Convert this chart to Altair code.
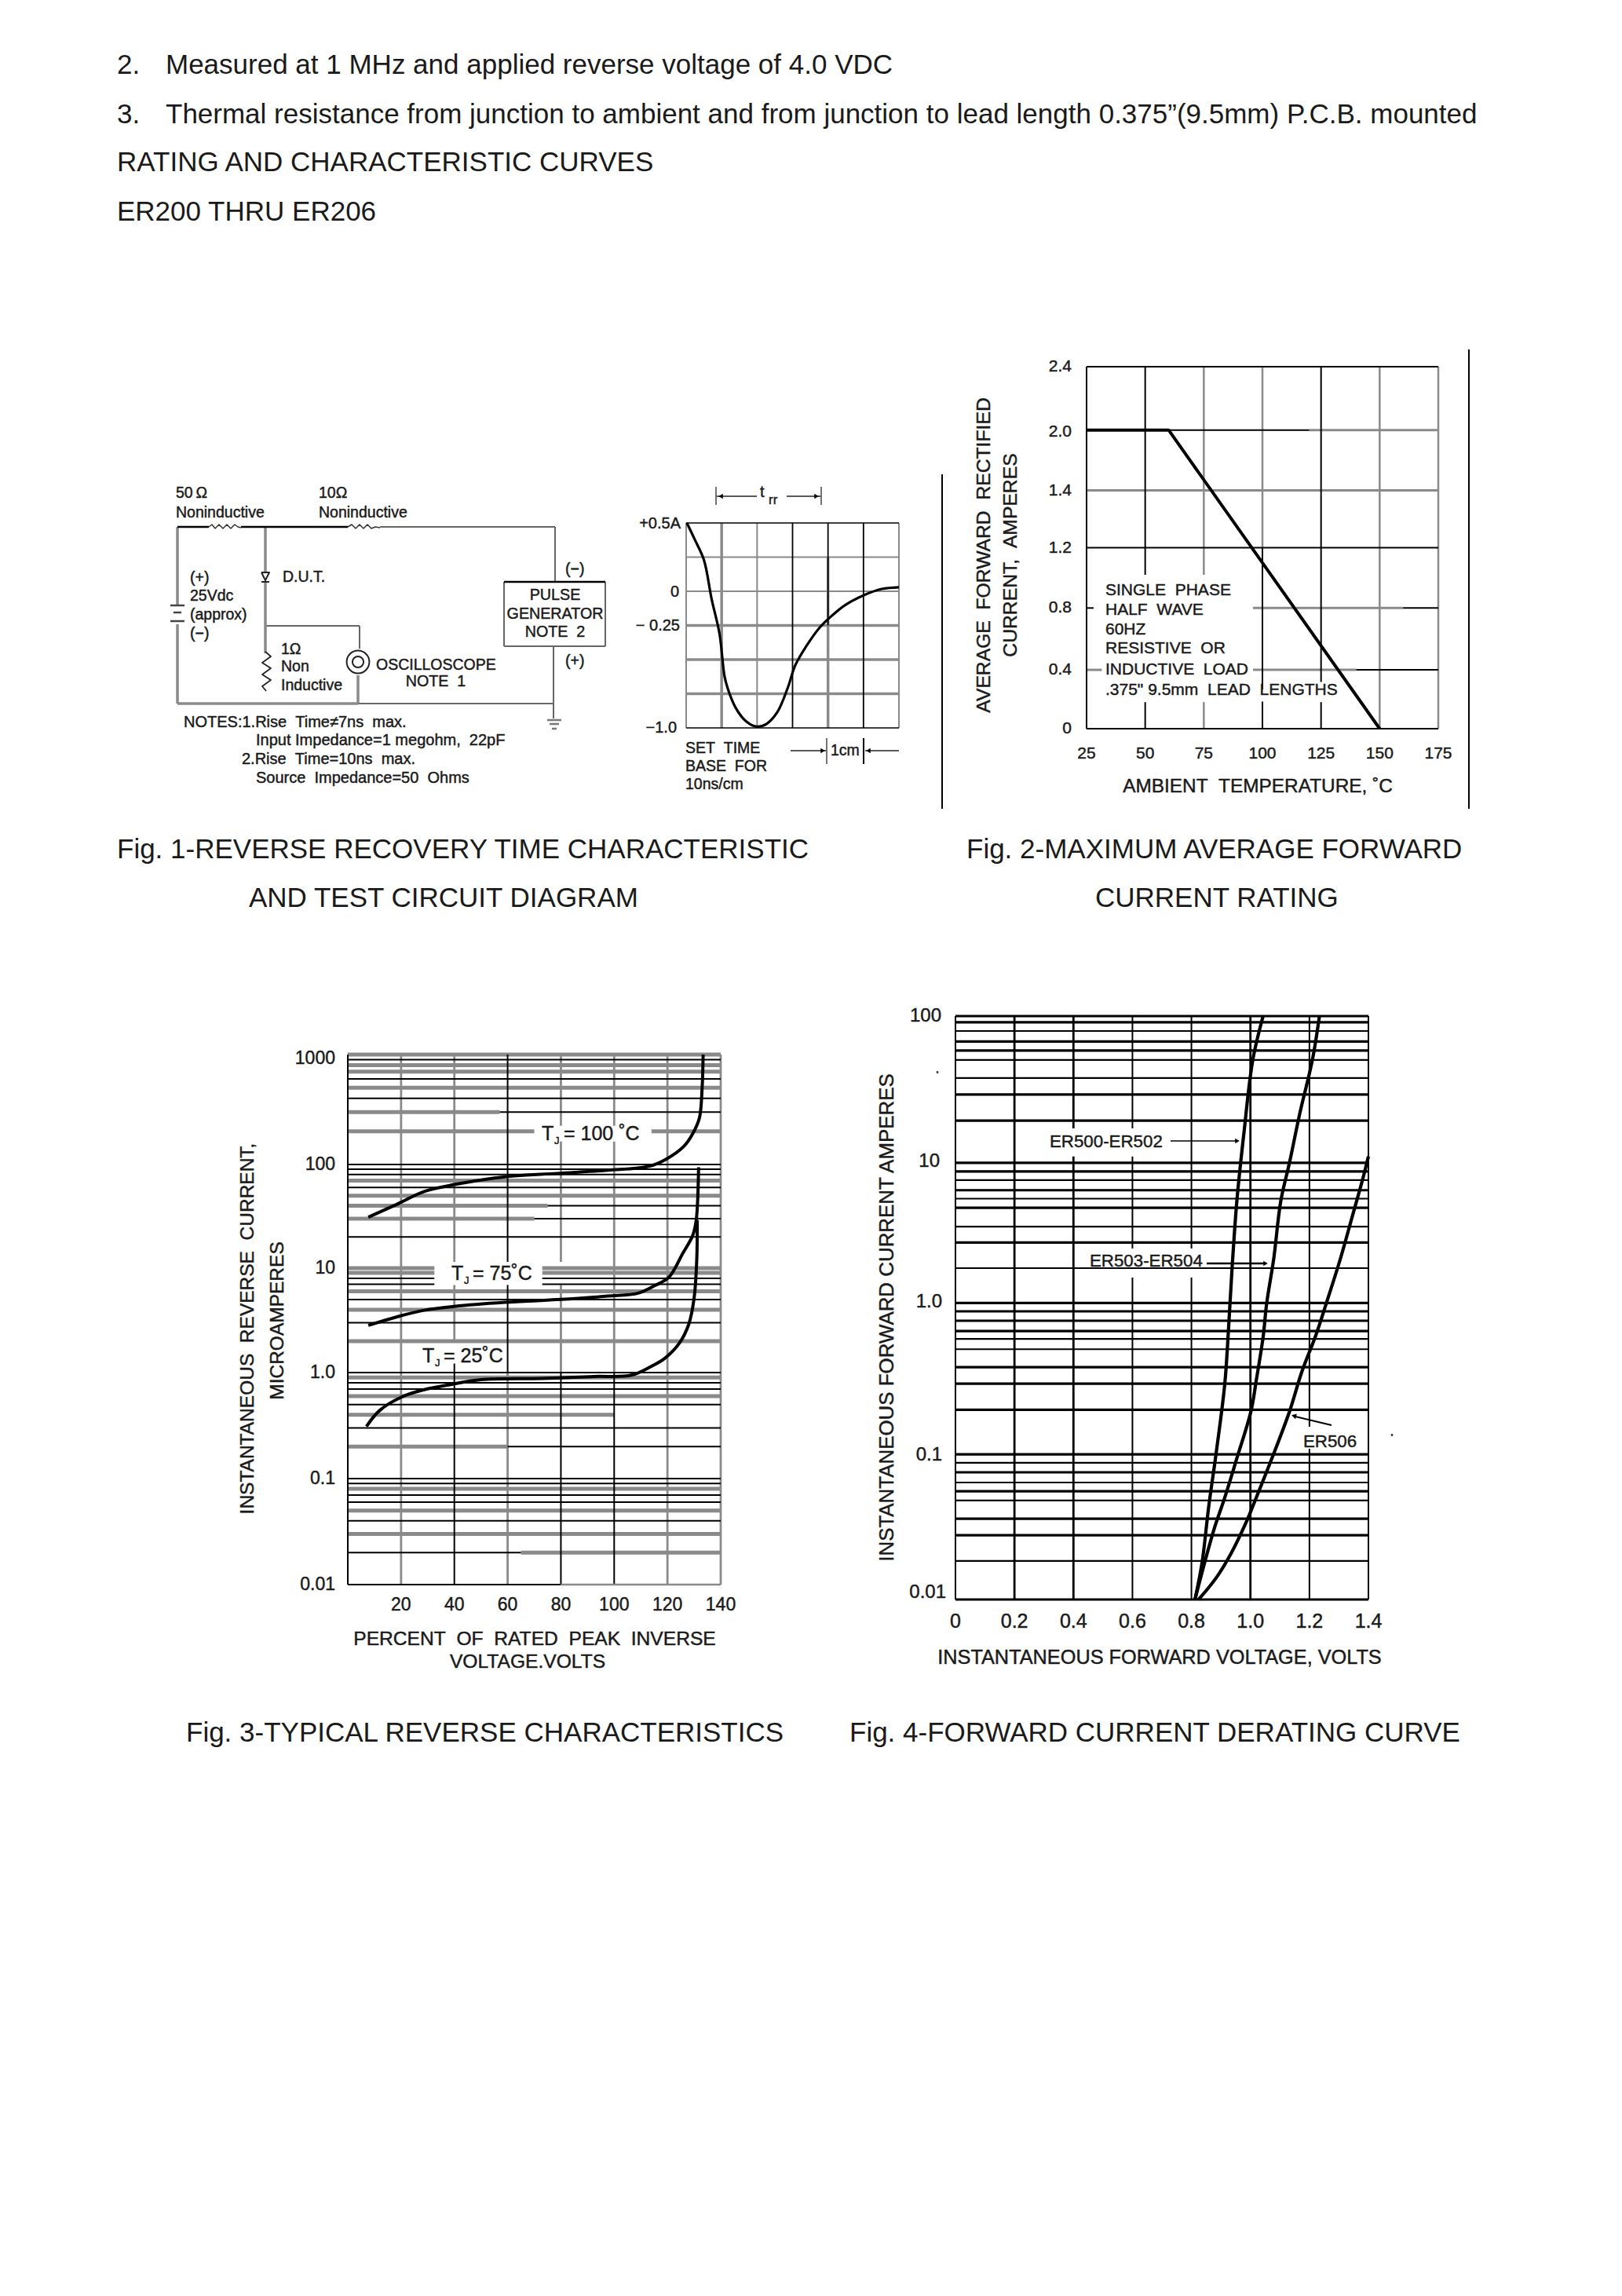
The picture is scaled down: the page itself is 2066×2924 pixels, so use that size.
import altair as alt
import pandas as pd

W, H = 2050, 2908
FONT = "Liberation Sans"
BLACK = "#000000"
GRAY = "#8a8a8a"
TXT = "#1a1a1a"
N = "\u00a0"


def xs(d0, d1, p0, p1, **kw):
    return alt.Scale(domain=[d0, d1], range=[p0 - 8, p1 - 8], **kw)


def ys(d0, d1, p0, p1, **kw):
    return alt.Scale(domain=[d0, d1], range=[p0 - 8, p1 - 8], **kw)


PAGE_X = xs(0, 2066, 0, 2066)
PAGE_Y = ys(0, 2924, 0, 2924)
CIRC_X = xs(0, 640, 180, 820)
CIRC_Y = ys(0, 460, 580, 1040)
WAVE_X = xs(0, 6, 874, 1145)
WAVE_Y = ys(-1.0, 0.5, 927, 666)
F2_X = xs(25, 175, 1384, 1832)
F2_Y = ys(0, 2.4, 928, 467)
F3_X = xs(0, 140, 443, 918)
F3_Y = alt.Scale(type="log", domain=[0.01, 0.1, 1, 10, 100, 1000],
                 range=[2018 - 8, 1883 - 8, 1748 - 8, 1615 - 8, 1483 - 8, 1343 - 8])
F4_X = xs(0, 1.4, 1217, 1743)
F4_Y = alt.Scale(type="log", domain=[0.01, 100], range=[2037 - 8, 1294 - 8])

layers = []


def hrules(rows, sx, sy, color, width):
    df = pd.DataFrame(rows, columns=["a", "b", "v"])
    layers.append(alt.Chart(df).mark_rule(color=color, strokeWidth=width).encode(
        x=alt.X("a:Q", scale=sx, axis=None), x2="b:Q",
        y=alt.Y("v:Q", scale=sy, axis=None)))


def vrules(rows, sx, sy, color, width):
    df = pd.DataFrame(rows, columns=["v", "a", "b"])
    layers.append(alt.Chart(df).mark_rule(color=color, strokeWidth=width).encode(
        x=alt.X("v:Q", scale=sx, axis=None),
        y=alt.Y("a:Q", scale=sy, axis=None), y2="b:Q"))


def curve(xv, yv, sx, sy, color=BLACK, width=4, interp="linear"):
    df = pd.DataFrame({"x": xv, "y": yv, "i": range(len(xv))})
    layers.append(alt.Chart(df).mark_line(color=color, strokeWidth=width, strokeJoin="round",
                                          interpolate=interp, clip=False).encode(
        x=alt.X("x:Q", scale=sx, axis=None), y=alt.Y("y:Q", scale=sy, axis=None), order="i:Q"))


def labels(rows, sx, sy, size, align="left", angle=0, thick=0.45, color=TXT):
    df = pd.DataFrame(rows, columns=["t", "x", "y"])
    kw = dict(stroke=color, strokeWidth=thick) if thick else {}
    layers.append(alt.Chart(df).mark_text(font=FONT, fontSize=size, align=align, baseline="middle",
                                          angle=angle, color=color, **kw).encode(
        x=alt.X("x:Q", scale=sx, axis=None), y=alt.Y("y:Q", scale=sy, axis=None), text="t:N"))


def heads(rows, shape, size=70, angle=0):
    df = pd.DataFrame(rows, columns=["x", "y"])
    layers.append(alt.Chart(df).mark_point(shape=shape, size=size, filled=True, color=BLACK, opacity=1,
                                           angle=angle).encode(
        x=alt.X("x:Q", scale=PAGE_X, axis=None), y=alt.Y("y:Q", scale=PAGE_Y, axis=None)))


# ---------- page text ----------
page_numbers = [("2.", 149, 83), ("3.", 149, 146)]
page_body = [
    ("Measured at 1 MHz and applied reverse voltage of 4.0 VDC", 211, 83),
    ("Thermal resistance from junction to ambient and from junction to lead length 0.375\u201d(9.5mm) P.C.B. mounted", 211, 146),
]
page_heads = [("RATING AND CHARACTERISTIC CURVES", 149, 207), ("ER200 THRU ER206", 149, 270)]
captions = [
    ("Fig. 1-REVERSE RECOVERY TIME CHARACTERISTIC", 149, 1082),
    ("AND TEST CIRCUIT DIAGRAM", 317, 1144),
    ("Fig. 2-MAXIMUM AVERAGE FORWARD", 1231, 1082),
    ("CURRENT RATING", 1395, 1144),
    ("Fig. 3-TYPICAL REVERSE CHARACTERISTICS", 237, 2207),
    ("Fig. 4-FORWARD CURRENT DERATING CURVE", 1082, 2207),
]
for group in (page_numbers, page_body, page_heads, captions):
    labels(group, PAGE_X, PAGE_Y, 35, thick=0)

# scan column rules and specks
vrules([(1200, 604, 1030), (1871, 445, 1030)], PAGE_X, PAGE_Y, BLACK, 2)
vrules([(1194, 1364, 1367), (1773, 1826, 1829)], PAGE_X, PAGE_Y, "#444444", 2.5)

# ---------- Fig 1 circuit (schematic units) ----------
wire_black_h = [(46, 86, 91), (127, 263, 91), (462, 591, 161)]
wire_gray_h_thin = [(304, 527, 91), (158, 278, 217), (276, 525, 316), (462, 591, 243)]
wire_gray_h = [(46, 276, 316)]
wire_gray_v = [(46, 91, 190), (46, 215, 316), (158, 91, 148), (158, 160, 252), (276, 280, 316)]
wire_gray_v_thin = [(278, 217, 246), (527, 91, 161), (525, 243, 316), (462, 161, 243), (591, 161, 243), (525, 316, 335)]
batt_plates = [(37, 55, 191), (41, 51, 200), (37, 55, 211)]
ground_plates = [(517, 535, 337), (520, 532, 342), (523, 529, 348)]
hrules(wire_gray_h_thin, CIRC_X, CIRC_Y, "#666666", 2)
hrules(wire_gray_h, CIRC_X, CIRC_Y, GRAY, 3.5)
vrules(wire_gray_v, CIRC_X, CIRC_Y, GRAY, 3.5)
vrules(wire_gray_v_thin, CIRC_X, CIRC_Y, "#666666", 2)
hrules(wire_black_h, CIRC_X, CIRC_Y, BLACK, 2.5)
hrules(batt_plates, CIRC_X, CIRC_Y, "#444444", 2.5)
hrules(ground_plates, CIRC_X, CIRC_Y, "#777777", 2.5)
curve([86, 90, 94, 99, 104, 109, 114, 119, 123, 127], [91, 88, 93, 88, 93, 88, 93, 88, 91, 92], CIRC_X, CIRC_Y, "#333333", 1.5)
curve([263, 268, 273, 278, 283, 288, 293, 298, 304], [91, 88, 93, 88, 93, 88, 93, 91, 92], CIRC_X, CIRC_Y, "#333333", 1.5)
curve([158, 165, 154, 165, 154, 165, 154, 159], [250, 256, 264, 271, 279, 286, 294, 300], CIRC_X, CIRC_Y, "#222222", 1.8)
curve([153, 163, 158, 153], [149, 149, 159, 149], CIRC_X, CIRC_Y, "#222222", 2)
hrules([(153, 163, 161)], CIRC_X, CIRC_Y, "#222222", 2)
for r_size, sw in ((830, 2), (200, 2)):
    layers.append(alt.Chart(pd.DataFrame({"x": [276], "y": [263]})).mark_point(
        shape="circle", size=r_size, filled=False, color="#222222", strokeWidth=sw, opacity=1).encode(
        x=alt.X("x:Q", scale=CIRC_X, axis=None), y=alt.Y("y:Q", scale=CIRC_Y, axis=None)))

circ_left = [
    ("50\u2009\u03a9", 44, 48), ("Noninductive", 44, 73), ("10\u03a9", 226, 48), ("Noninductive", 226, 73),
    ("(+)", 62, 156), ("25Vdc", 62, 179), ("(approx)", 62, 203), ("(\u2212)", 62, 227),
    ("D.U.T.", 180, 155), ("(\u2212)", 540, 145), ("(+)", 540, 262),
    ("1\u03a9", 178, 247), ("Non", 178, 269), ("Inductive", 178, 293),
    ("OSCILLOSCOPE", 299, 267),
]
circ_notes = [
    (f"NOTES:1.Rise{N}{N}Time\u22607ns{N}{N}max.", 54, 340),
    (f"Input{N}Impedance=1{N}megohm,{N}{N}22pF", 146, 363),
    (f"2.Rise{N}{N}Time=10ns{N}{N}max.", 128, 387),
    (f"Source{N}{N}Impedance=50{N}{N}Ohms", 146, 411),
]
circ_center = [("PULSE", 527, 178), ("GENERATOR", 527, 202), (f"NOTE{N}{N}2", 527, 225), (f"NOTE{N}{N}1", 375, 288)]
labels(circ_left, CIRC_X, CIRC_Y, 19.5)
labels(circ_notes, CIRC_X, CIRC_Y, 20)
labels(circ_center, CIRC_X, CIRC_Y, 19.7, align="center")

# ---------- Fig 1 waveform ----------
wave_x_gray = [(0, -1.0, 0.5), (6, -1.0, 0.5), (2, -1.0, 0.5)]
wave_x_gray_bold = [(1, -1.0, 0.5), (4, -1.0, 0.25)]
wave_x_black = [(3, -1.0, 0.5), (4, -0.25, 0.5), (5, -1.0, 0.5)]
wave_y_gray = [(0, 6, 0.25), (0, 6, 0.0)]
wave_y_gray_bold = [(0, 6, -0.25), (0, 6, -0.5), (0, 6, -0.75)]
wave_y_black = [(0, 6, 0.5), (0, 6, -1.0)]
vrules(wave_x_gray, WAVE_X, WAVE_Y, GRAY, 2)
vrules(wave_x_gray_bold, WAVE_X, WAVE_Y, GRAY, 3.5)
hrules(wave_y_gray, WAVE_X, WAVE_Y, GRAY, 2.2)
hrules(wave_y_gray_bold, WAVE_X, WAVE_Y, GRAY, 3.5)
vrules(wave_x_black, WAVE_X, WAVE_Y, BLACK, 1.8)
hrules(wave_y_black, WAVE_X, WAVE_Y, BLACK, 1.6)
wave_t = [0.02, 0.24, 0.50, 0.72, 0.94, 1.08, 1.17, 1.39, 1.68, 1.98, 2.27, 2.57, 2.86, 3.08, 3.38, 3.75, 4.04, 4.49, 5.0, 5.52, 6.0]
wave_i = [0.5, 0.38, 0.23, -0.06, -0.31, -0.62, -0.71, -0.85, -0.95, -0.99, -0.97, -0.885, -0.71, -0.54, -0.405, -0.27, -0.195, -0.10, -0.03, 0.017, 0.03]
curve(wave_t, wave_i, WAVE_X, WAVE_Y, BLACK, 3.2, "catmull-rom")
labels([("+0.5A", 867, 667), ("0", 865, 754), ("\u2212 0.25", 866, 797), ("\u22121.0", 862, 927)], PAGE_X, PAGE_Y, 20, align="right")
labels([(f"SET{N}{N}TIME", 873, 953), (f"BASE{N}{N}FOR", 873, 976), ("10ns/cm", 873, 999), ("1cm", 1058, 956)], PAGE_X, PAGE_Y, 19.5)
labels([("t", 968, 627)], PAGE_X, PAGE_Y, 20)
labels([("rr", 979, 637)], PAGE_X, PAGE_Y, 17)
hrules([(912, 964, 632), (1002, 1046, 632), (1007, 1052, 956), (1102, 1145, 956)], PAGE_X, PAGE_Y, "#222222", 1.6)
vrules([(912, 620, 643), (1046, 620, 643), (1053, 940, 973)], PAGE_X, PAGE_Y, "#666666", 1.8)
vrules([(1100, 940, 973)], PAGE_X, PAGE_Y, BLACK, 2)
heads([(1040, 632), (1048, 956)], "triangle-right", 40)
heads([(918, 632), (1106, 956)], "triangle-left", 40)

# ---------- Fig 2 ----------
f2_v_gray = [(75, 1.02, 2.4), (75, 0, 0.176), (100, 1.2, 2.4), (150, 0, 2.4), (175, 0, 2.4)]
f2_v_black = [(25, 0, 2.4), (50, 1.02, 2.4), (50, 0, 0.176), (100, 0.26, 1.2), (100, 0, 0.18), (125, 0.31, 2.4), (125, 0, 0.176)]
f2_h_gray = [(120, 175, 1.98), (25, 175, 1.58), (96, 160, 0.8), (25, 31.5, 0.39), (96, 140, 0.39)]
f2_h_black = [(25, 175, 2.4), (25, 120, 1.98), (25, 175, 1.2), (25, 28, 0.8), (160, 175, 0.8), (140, 175, 0.39), (25, 175, 0)]
vrules(f2_v_gray, F2_X, F2_Y, GRAY, 2.5)
hrules(f2_h_gray, F2_X, F2_Y, GRAY, 3)
vrules(f2_v_black, F2_X, F2_Y, BLACK, 2)
hrules(f2_h_black, F2_X, F2_Y, BLACK, 2)
curve([25, 60, 150], [1.98, 1.98, 0.0], F2_X, F2_Y, BLACK, 4)
f2_xticks = [25, 50, 75, 100, 125, 150, 175]
f2_yticks = [2.4, 1.97, 1.58, 1.2, 0.8, 0.39, 0]
f2_ytext = ["2.4", "2.0", "1.4", "1.2", "0.8", "0.4", "0"]
labels([(str(v), v, 0) for v in f2_xticks], F2_X, alt.Scale(domain=[0, 1], range=[960 - 8, 961 - 8]), 21, align="center")
labels([(t, 0, v) for t, v in zip(f2_ytext, f2_yticks)],
       alt.Scale(domain=[0, 1], range=[1365 - 8, 1366 - 8]), F2_Y, 21, align="right")
labels([(f"AMBIENT{N}{N}TEMPERATURE,{N}\u02daC", 1602, 1002)], PAGE_X, PAGE_Y, 24.4, align="center")
labels([(f"AVERAGE{N}{N}FORWARD{N}{N}RECTIFIED", 1254, 707), (f"CURRENT,{N}{N}AMPERES", 1288, 707)], PAGE_X, PAGE_Y, 24.7, align="center", angle=270)
labels([(f"SINGLE{N}{N}PHASE", 1408, 752), (f"HALF{N}{N}WAVE", 1408, 777), ("60HZ", 1408, 802),
        (f"RESISTIVE{N}{N}OR", 1408, 826), (f"INDUCTIVE{N}{N}LOAD", 1408, 853),
        (f".375\"{N}9.5mm{N}{N}LEAD{N}{N}LENGTHS", 1408, 879)], PAGE_X, PAGE_Y, 21)

# ---------- Fig 3 ----------
f3_h_gray = [
    (0, 140, 1000), (0, 140, 800), (0, 140, 700), (0, 140, 500), (0, 57, 300), (0, 70, 200), (114, 140, 200),
    (0, 140, 70), (0, 140, 50), (0, 75, 40), (0, 70, 30), (0, 32.5, 10), (73, 140, 10), (0, 32.5, 9), (73, 140, 9),
    (0, 140, 6), (0, 140, 4), (0, 140, 2), (0, 140, 0.9), (0, 140, 0.6), (0, 100, 0.4), (0, 60, 0.2),
    (0, 140, 0.08), (0, 140, 0.05), (0, 140, 0.03), (65, 140, 0.02),
]
f3_h_black = [
    (0, 140, 900), (0, 140, 600), (0, 140, 400), (57, 140, 300), (0, 140, 100), (0, 140, 90), (0, 140, 80),
    (0, 140, 60), (75, 140, 40), (70, 140, 30), (0, 140, 20), (0, 32.5, 8), (73, 140, 8), (0, 32.5, 7), (73, 140, 7),
    (0, 140, 5), (0, 140, 3), (0, 140, 1), (0, 140, 0.8), (0, 140, 0.7), (0, 140, 0.5), (0, 140, 0.3), (60, 140, 0.2),
    (0, 140, 0.1), (0, 140, 0.09), (0, 140, 0.07), (0, 140, 0.06), (0, 140, 0.04), (0, 65, 0.02), (0, 80, 0.01),
]
f3_v_gray = [(20, 0.01, 1000), (40, 2.0, 6.9), (40, 11.5, 1000), (60, 0.01, 1), (80, 1, 6.9), (80, 11.5, 162), (80, 225, 1000),
             (100, 1, 162), (100, 225, 1000), (120, 0.01, 1000), (140, 0.01, 1000)]
f3_v_black = [(0, 0.01, 1000), (40, 0.01, 1.22), (60, 1, 6.9), (60, 11.5, 1000), (80, 0.01, 1), (100, 0.01, 1)]
hrules(f3_h_gray, F3_X, F3_Y, GRAY, 5)
vrules(f3_v_gray, F3_X, F3_Y, GRAY, 2.8)
hrules(f3_h_black, F3_X, F3_Y, BLACK, 2)
vrules(f3_v_black, F3_X, F3_Y, BLACK, 2)
hrules([(80, 140, 0.01)], F3_X, F3_Y, GRAY, 2.5)
curve([7.7, 18.5, 28.7, 40, 59, 78.5, 97.6, 113, 119, 126, 129.5, 132, 133, 133.4],
      [31, 41.4, 55, 64, 76, 82, 88, 96, 110, 145, 191, 265, 485, 1000], F3_X, F3_Y, BLACK, 4, "catmull-rom")
curve([7.7, 18.5, 28.7, 40, 59, 78.5, 97.6, 109, 115.5, 120.6, 125.7, 129.5, 130.8, 131.7],
      [2.83, 3.42, 3.95, 4.3, 4.7, 5.0, 5.4, 5.76, 6.85, 8.2, 13.8, 20.7, 29, 94], F3_X, F3_Y, BLACK, 4, "catmull-rom")
curve([7, 12, 21, 28.7, 39, 50, 73, 92.5, 106.5, 114, 119, 124.4, 128, 130, 131, 131.2],
      [0.31, 0.44, 0.6, 0.69, 0.775, 0.858, 0.88, 0.92, 0.945, 1.15, 1.37, 1.9, 2.9, 5.13, 12, 29], F3_X, F3_Y, BLACK, 4, "catmull-rom")
f3_xticks = [20, 40, 60, 80, 100, 120, 140]
labels([(str(v), v, 0) for v in f3_xticks], F3_X, alt.Scale(domain=[0, 1], range=[2044 - 8, 2045 - 8]), 23, align="center")
labels([("1000", 427, 1348), ("100", 427, 1483), ("10", 427, 1615), ("1.0", 427, 1748), ("0.1", 427, 1883), ("0.01", 427, 2018)], PAGE_X, PAGE_Y, 23, align="right")
labels([(f"PERCENT{N}{N}OF{N}{N}RATED{N}{N}PEAK{N}{N}INVERSE", 681, 2088), ("VOLTAGE.VOLTS", 672, 2117)], PAGE_X, PAGE_Y, 24.6, align="center")
labels([(f"INSTANTANEOUS{N}{N}REVERSE{N}{N}CURRENT,", 316, 1692), ("MICROAMPERES", 354, 1682)], PAGE_X, PAGE_Y, 24.5, align="center", angle=270)
labels([("T", 690, 1444), ("= 100 \u02daC", 718, 1444), ("T", 575, 1622), ("= 75\u02daC", 602, 1622), ("T", 538, 1727), ("= 25\u02daC", 565, 1727)], PAGE_X, PAGE_Y, 25)
labels([("J", 706, 1453), ("J", 591, 1631), ("J", 554, 1736)], PAGE_X, PAGE_Y, 13)

# ---------- Fig 4 ----------
f4_h_heavy = [100, 90.6, 67, 58, 29, 19.2, 9.85, 8.6, 6.4, 4.85, 2.8, 1.08, 0.946, 0.815, 0.693, 0.392, 0.302, 0.2, 0.099, 0.0745, 0.0553, 0.0358, 0.0276, 0.01]
f4_h_light = [79, 50, 37.6, 7.5, 5.6, 3.6, 1.87, 0.612, 0.52, 0.0865, 0.0634, 0.0477, 0.0184]
f4_v_heavy = [(0.2, 0.01, 100), (0.4, 0.01, 10.9), (0.4, 17, 100), (1.0, 0.01, 100)]
f4_v_light = [(0, 0.01, 100), (0.6, 0.01, 1.61), (0.6, 2.55, 10.9), (0.6, 17, 100), (0.8, 0.01, 1.61), (0.8, 2.55, 100),
              (1.2, 0.01, 0.108), (1.2, 0.153, 100), (1.4, 0.01, 100)]
hrules([(0, 1.4, v) for v in f4_h_heavy], F4_X, F4_Y, BLACK, 3.2)
hrules([(0, 1.4, v) for v in f4_h_light], F4_X, F4_Y, BLACK, 2.2)
vrules(f4_v_heavy, F4_X, F4_Y, BLACK, 2.8)
vrules(f4_v_light, F4_X, F4_Y, BLACK, 2)
curve([1.043, 1.008, 0.978, 0.954, 0.937, 0.925, 0.913, 0.883, 0.859, 0.836, 0.812],
      [100, 50, 15.8, 5.4, 1.76, 0.676, 0.30, 0.098, 0.044, 0.0179, 0.01], F4_X, F4_Y, BLACK, 4.2, "catmull-rom")
curve([1.234, 1.21, 1.168, 1.133, 1.103, 1.079, 1.055, 1.043, 1.02, 1.002, 0.954, 0.913, 0.877, 0.847, 0.812],
      [100, 50, 21.8, 10, 5.4, 2.17, 1.07, 0.63, 0.32, 0.196, 0.093, 0.05, 0.0305, 0.0186, 0.01], F4_X, F4_Y, BLACK, 4.2, "catmull-rom")
curve([1.4, 1.382, 1.347, 1.305, 1.257, 1.222, 1.174, 1.133, 1.073, 1.014, 0.984, 0.936, 0.883, 0.824],
      [10.9, 7.8, 4.35, 2.17, 1.07, 0.65, 0.363, 0.196, 0.093, 0.0467, 0.0333, 0.021, 0.014, 0.01], F4_X, F4_Y, BLACK, 4.2, "catmull-rom")
f4_xtext = [("0", 0), ("0.2", 0.2), ("0.4", 0.4), ("0.6", 0.6), ("0.8", 0.8), ("1.0", 1.0), ("1.2", 1.2), ("1.4", 1.4)]
labels([(t, v, 0) for t, v in f4_xtext], F4_X, alt.Scale(domain=[0, 1], range=[2065 - 8, 2066 - 8]), 25, align="center")
labels([("100", 1199, 1294), ("10", 1197, 1479), ("1.0", 1200, 1658), ("0.1", 1200, 1853), ("0.01", 1205, 2028)], PAGE_X, PAGE_Y, 24, align="right")
labels([("INSTANTANEOUS FORWARD VOLTAGE, VOLTS", 1477, 2111)], PAGE_X, PAGE_Y, 25.3, align="center")
labels([("INSTANTANEOUS FORWARD CURRENT AMPERES", 1130, 1678)], PAGE_X, PAGE_Y, 25.9, align="center", angle=270)
labels([("ER500-ER502", 1337, 1454), ("ER503-ER504", 1388, 1606), ("ER506", 1660, 1836)], PAGE_X, PAGE_Y, 22.3)
hrules([(1491, 1575, 1453)], PAGE_X, PAGE_Y, BLACK, 1.3)
hrules([(1537, 1610, 1609)], PAGE_X, PAGE_Y, BLACK, 2.5)
heads([(1576, 1453), (1612, 1609)], "triangle-right", 40)
curve([1696, 1650], [1815, 1804], PAGE_X, PAGE_Y, BLACK, 2)
heads([(1648, 1803)], "triangle-left", 50, angle=15)

chart = alt.layer(*layers).resolve_scale(x="independent", y="independent").properties(
    width=W, height=H, padding=0, background="#ffffff",
    autosize=alt.AutoSizeParams(type="none"),
).configure_view(stroke=None)

chart.save("out.html", embed_options={"renderer": "svg", "actions": False})
